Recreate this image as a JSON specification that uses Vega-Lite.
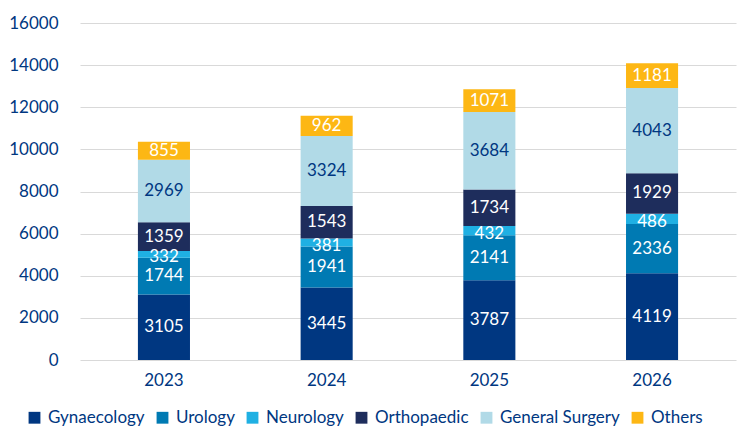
{
  "$schema": "https://vega.github.io/schema/vega-lite/v6.json",
  "width": 751,
  "height": 438,
  "autosize": {"type": "fit", "contains": "padding"},
  "padding": {"left": 8, "right": 15, "top": 14, "bottom": 50},
  "background": "white",
  "config": {
    "font": "Lato",
    "view": {"stroke": null},
    "axis": {"labelColor": "#003781", "labelFontSize": 17, "labelFont": "Lato", "ticks": false, "domain": false, "gridColor": "#d9d9d9", "title": null}
  },
  "data": {
    "values": [
      {"year": "2023", "cat": "Gynaecology", "idx": 1, "value": 3105},
      {"year": "2023", "cat": "Urology", "idx": 2, "value": 1744},
      {"year": "2023", "cat": "Neurology", "idx": 3, "value": 332},
      {"year": "2023", "cat": "Orthopaedic", "idx": 4, "value": 1359},
      {"year": "2023", "cat": "General Surgery", "idx": 5, "value": 2969},
      {"year": "2023", "cat": "Others", "idx": 6, "value": 855},
      {"year": "2024", "cat": "Gynaecology", "idx": 1, "value": 3445},
      {"year": "2024", "cat": "Urology", "idx": 2, "value": 1941},
      {"year": "2024", "cat": "Neurology", "idx": 3, "value": 381},
      {"year": "2024", "cat": "Orthopaedic", "idx": 4, "value": 1543},
      {"year": "2024", "cat": "General Surgery", "idx": 5, "value": 3324},
      {"year": "2024", "cat": "Others", "idx": 6, "value": 962},
      {"year": "2025", "cat": "Gynaecology", "idx": 1, "value": 3787},
      {"year": "2025", "cat": "Urology", "idx": 2, "value": 2141},
      {"year": "2025", "cat": "Neurology", "idx": 3, "value": 432},
      {"year": "2025", "cat": "Orthopaedic", "idx": 4, "value": 1734},
      {"year": "2025", "cat": "General Surgery", "idx": 5, "value": 3684},
      {"year": "2025", "cat": "Others", "idx": 6, "value": 1071},
      {"year": "2026", "cat": "Gynaecology", "idx": 1, "value": 4119},
      {"year": "2026", "cat": "Urology", "idx": 2, "value": 2336},
      {"year": "2026", "cat": "Neurology", "idx": 3, "value": 486},
      {"year": "2026", "cat": "Orthopaedic", "idx": 4, "value": 1929},
      {"year": "2026", "cat": "General Surgery", "idx": 5, "value": 4043},
      {"year": "2026", "cat": "Others", "idx": 6, "value": 1181}
    ]
  },
  "transform": [
    {"stack": "value", "groupby": ["year"], "sort": [{"field": "idx", "order": "ascending"}], "as": ["v0", "v1"]},
    {"calculate": "(datum.v0 + datum.v1) / 2", "as": "vmid"}
  ],
  "encoding": {
    "x": {"field": "year", "type": "nominal", "scale": {"paddingInner": 0.68, "paddingOuter": 0.356}, "axis": {"labelAngle": 0, "labelPadding": 12, "grid": false}}
  },
  "layer": [
    {
      "mark": {"type": "bar"},
      "encoding": {
        "y": {"field": "v0", "type": "quantitative", "scale": {"domain": [0, 16000]}, "axis": {"values": [0,2000,4000,6000,8000,10000,12000,14000,16000], "labelOverlap": false, "labelPadding": 22, "format": "d"}},
        "y2": {"field": "v1"},
        "color": {
          "field": "cat", "type": "nominal",
          "scale": {"domain": ["Gynaecology", "Urology", "Neurology", "Orthopaedic", "General Surgery", "Others"],
                    "range": ["#003781", "#007ab3", "#1fb0e3", "#1e2d5c", "#b1dae7", "#fdb714"]},
          "legend": {"title": null, "orient": "none", "direction": "horizontal", "legendX": -54, "legendY": 386, "symbolType": "square", "symbolSize": 140, "symbolStrokeWidth": 0, "labelFontSize": 17, "labelColor": "#003781", "labelFont": "Lato", "columnPadding": 9, "labelOffset": 5}
        }
      }
    },
    {
      "transform": [{"filter": "datum.cat !== 'Neurology'"}],
      "mark": {"type": "text", "fontSize": 17, "font": "Lato", "baseline": "middle"},
      "encoding": {
        "y": {"field": "vmid", "type": "quantitative"},
        "text": {"field": "value", "type": "quantitative", "format": "d"},
        "color": {
          "condition": {"test": "datum.cat === 'General Surgery'", "value": "#003781"},
          "value": "white"
        }
      }
    },
    {
      "transform": [{"filter": "datum.cat === 'Neurology'"}],
      "mark": {"type": "text", "fontSize": 17, "font": "Lato", "baseline": "middle", "dy": 3, "color": "white"},
      "encoding": {
        "y": {"field": "vmid", "type": "quantitative"},
        "text": {"field": "value", "type": "quantitative", "format": "d"}
      }
    }
  ]
}
